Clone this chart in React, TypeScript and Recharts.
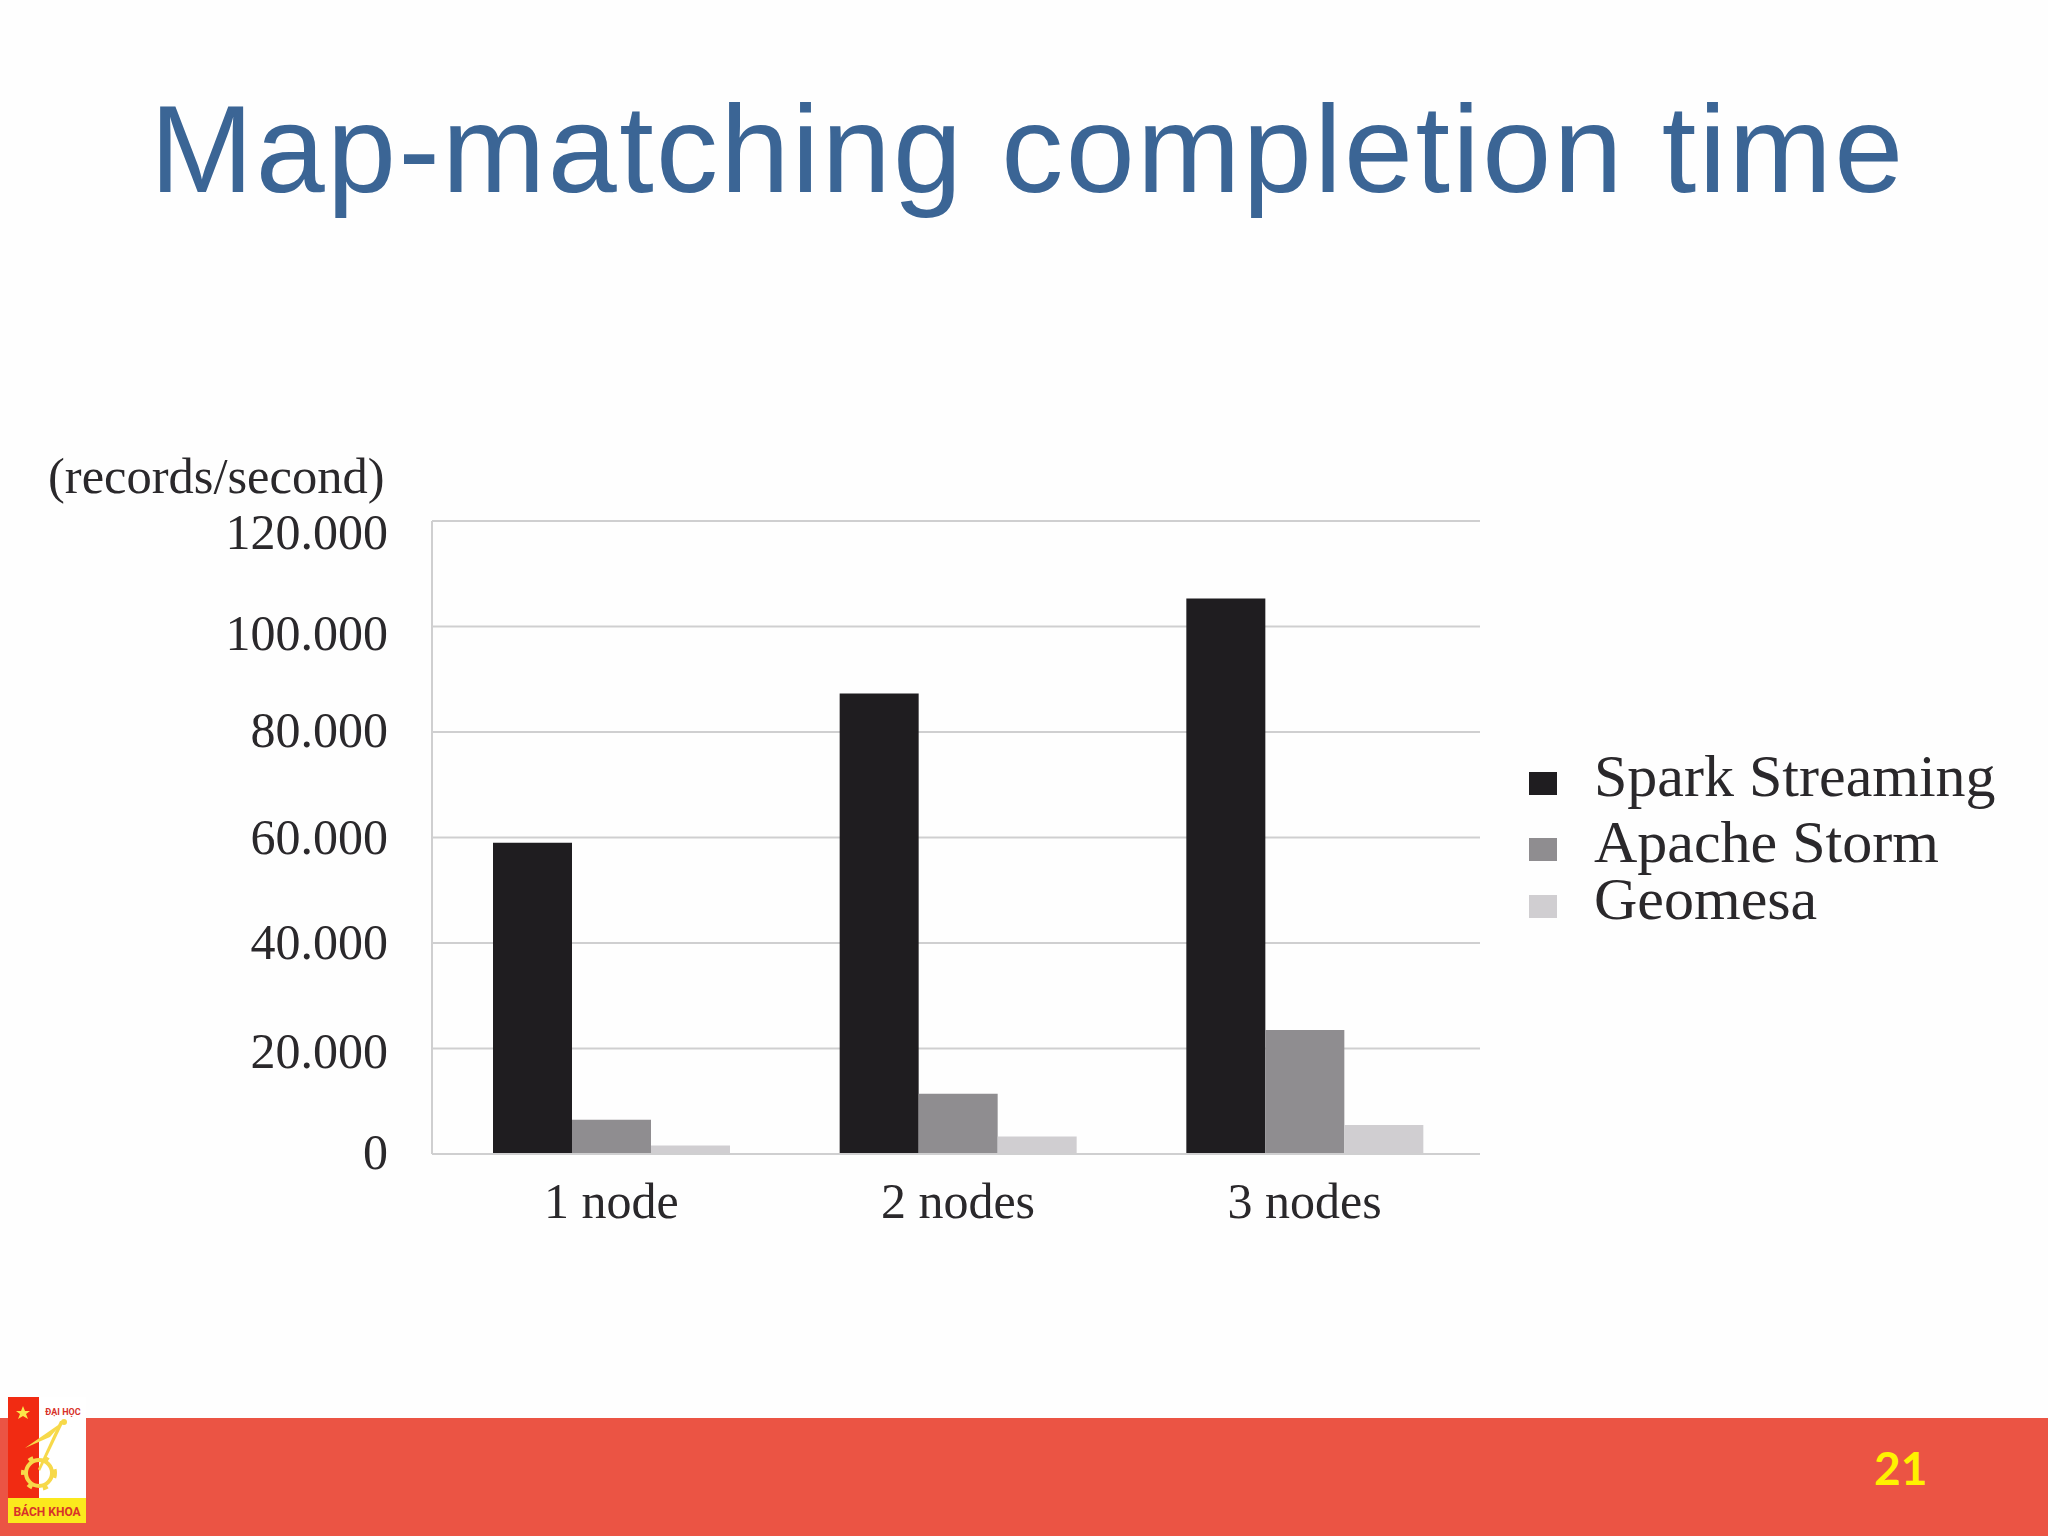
import React from 'react';
import { BarChart, Bar, XAxis, YAxis, CartesianGrid, Legend } from 'recharts';

// Chart data
const NODE_LABELS = ['1 node', '2 nodes', '3 nodes'];
const SPARK_STREAMING = [59000, 87300, 105300];
const APACHE_STORM = [6500, 11400, 23500];
const GEOMESA = [1600, 3300, 5500];
const Y_TICKS = [0, 20000, 40000, 60000, 80000, 100000, 120000];

const SERIES_COLORS = ['#1f1d20', '#8f8d90', '#d0ced1'];
const SERIF = '"Liberation Serif", serif';
const TEXT_COLOR = '#2a282b';
const GRID_COLOR = '#cfcfd0';

// The tick labels in the scan sit a little off their gridlines near the top
const TICK_NUDGE: Record<number, number> = {
  120000: 12,
  100000: 7,
  80000: -1,
  20000: 3,
  0: -1,
};

const chartData = NODE_LABELS.map((node, i) => ({
  node,
  spark: SPARK_STREAMING[i],
  storm: APACHE_STORM[i],
  geomesa: GEOMESA[i],
}));

const formatTick = (value: number) => (value === 0 ? '0' : `${value / 1000}.000`);

const YTick = ({ x, y, payload }: any) => (
  <text
    x={x}
    y={y + (TICK_NUDGE[payload.value] || 0)}
    dy={16}
    textAnchor="end"
    fontFamily={SERIF}
    fontSize={50}
    fill={TEXT_COLOR}
  >
    {formatTick(payload.value)}
  </text>
);

// Rows in the legend are not evenly spaced in the original
const LEGEND_ROW_HEIGHTS = [70, 62, 52];

const ChartLegend = ({ payload }: any) => (
  <div style={{ fontFamily: SERIF, fontSize: 60, color: TEXT_COLOR }}>
    {(payload || []).map((entry: any, i: number) => (
      <div
        key={entry.value}
        style={{ display: 'flex', alignItems: 'center', height: LEGEND_ROW_HEIGHTS[i], whiteSpace: 'nowrap' }}
      >
        <span style={{ width: 28, height: 23, marginRight: 37, marginTop: 14, background: entry.color }} />
        <span style={{ lineHeight: '50px' }}>{entry.value}</span>
      </div>
    ))}
  </div>
);

const Logo = () => (
  <svg
    width={78}
    height={126}
    viewBox="0 0 78 126"
    style={{ position: 'absolute', left: 8, top: 1397 }}
  >
    <rect width={78} height={126} fill="#ffffff" />
    <rect width={31} height={101} fill="#f12b12" />
    <rect y={101} width={78} height={25} fill="#fbe91d" />
    <polygon points="15,9 17,14 22,14 18,17 20,22 15,19 10,22 12,17 8,14 13,14" fill="#fbe64a" />
    <text x={55} y={18} textAnchor="middle" fontFamily="Roboto" fontWeight={700} fontSize={9} fill="#d8322a">
      ĐẠI HỌC
    </text>
    <polygon points="17,51 56,24 42,40" fill="#f7d94a" />
    <polygon points="56,24 32,74 30,72 52,24" fill="#f7d94a" />
    <circle cx={56} cy={25} r={3} fill="#f7d94a" />
    <circle cx={31} cy={76} r={13} fill="none" stroke="#f7d94a" strokeWidth={4} />
    <circle cx={31} cy={76} r={16} fill="none" stroke="#f7d94a" strokeWidth={4} strokeDasharray="5 11" />
    <text x={39} y={119} textAnchor="middle" fontFamily="Roboto" fontWeight={700} fontSize={12} fill="#d8322a">
      BÁCH KHOA
    </text>
  </svg>
);

export default function App() {
  return (
    <div style={{ position: 'absolute', left: 0, top: 0, width: 2048, height: 1536, background: '#fefefe', overflow: 'hidden' }}>
      <div
        style={{
          position: 'absolute',
          left: 150,
          top: 87,
          fontFamily: '"Liberation Sans", sans-serif',
          fontSize: 124,
          letterSpacing: 2.4,
          lineHeight: 1,
          color: '#3b6595',
          whiteSpace: 'nowrap',
        }}
      >
        Map-matching completion time
      </div>

      <div
        style={{
          position: 'absolute',
          left: 48,
          top: 449,
          fontFamily: SERIF,
          fontSize: 50.5,
          lineHeight: 1.1,
          color: TEXT_COLOR,
          whiteSpace: 'nowrap',
        }}
      >
        (records/second)
      </div>

      <div style={{ position: 'absolute', left: 0, top: 0 }}>
        <BarChart
          width={2048}
          height={1536}
          data={chartData}
          margin={{ top: 521, right: 568, bottom: 322, left: 232 }}
          barSize={79}
          barGap={0}
        >
          <CartesianGrid vertical={false} stroke={GRID_COLOR} strokeWidth={2} />
          <XAxis
            dataKey="node"
            height={60}
            padding={{ left: 6, right: 2 }}
            axisLine={{ stroke: GRID_COLOR, strokeWidth: 2 }}
            tickLine={false}
            tickMargin={22}
            tick={{ fontFamily: SERIF, fontSize: 50, fill: TEXT_COLOR }}
          />
          <YAxis
            width={200}
            domain={[0, 120000]}
            ticks={Y_TICKS}
            interval={0}
            axisLine={{ stroke: GRID_COLOR, strokeWidth: 2 }}
            tickLine={false}
            tickMargin={38}
            tick={<YTick />}
          />
          <Legend
            layout="vertical"
            align="center"
            verticalAlign="middle"
            itemSorter={null}
            wrapperStyle={{ left: 1529, top: 741, width: 500 }}
            content={<ChartLegend />}
          />
          <Bar dataKey="spark" name="Spark Streaming" fill={SERIES_COLORS[0]} isAnimationActive={false} />
          <Bar dataKey="storm" name="Apache Storm" fill={SERIES_COLORS[1]} isAnimationActive={false} />
          <Bar dataKey="geomesa" name="Geomesa" fill={SERIES_COLORS[2]} isAnimationActive={false} />
        </BarChart>
      </div>

      <div style={{ position: 'absolute', left: 0, top: 1418, width: 2048, height: 118, background: '#eb5444' }} />
      <div
        style={{
          position: 'absolute',
          left: 1874,
          top: 1440,
          fontFamily: 'Lato, sans-serif',
          fontWeight: 700,
          fontSize: 46,
          lineHeight: 1.2,
          color: '#fff200',
        }}
      >
        21
      </div>
      <Logo />
    </div>
  );
}
